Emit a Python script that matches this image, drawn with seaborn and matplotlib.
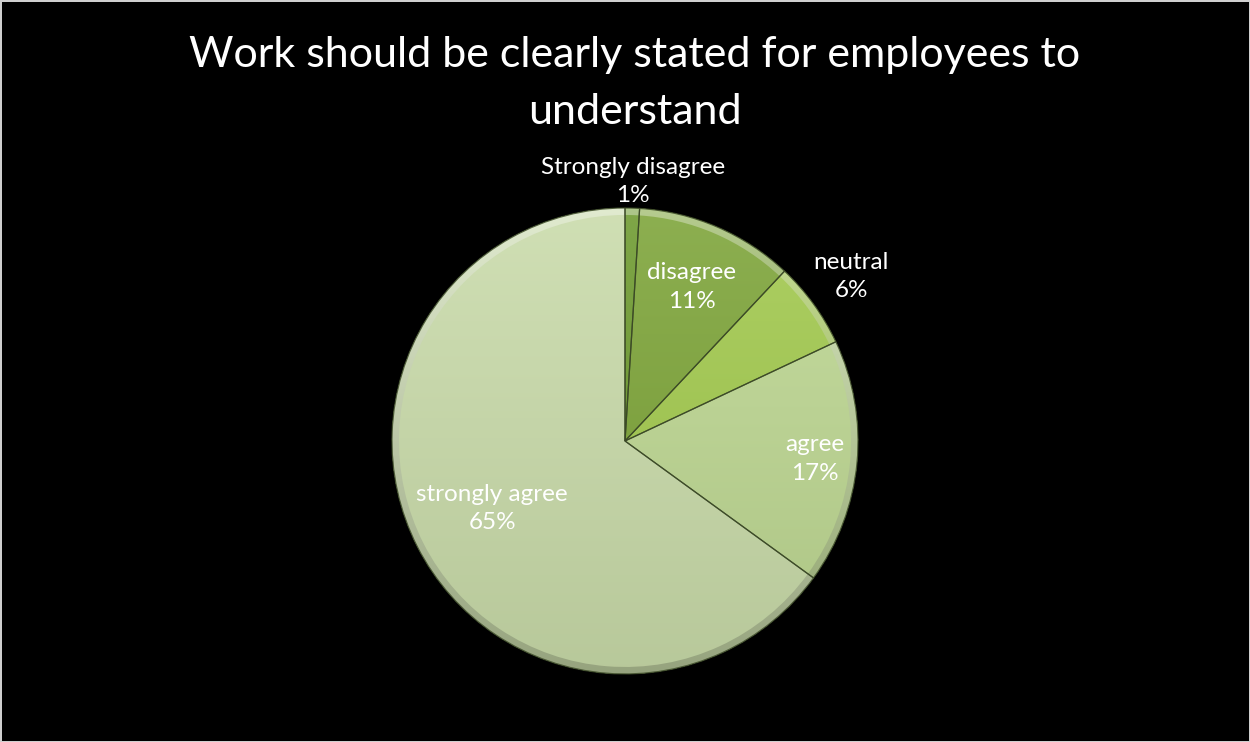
import numpy as np
import matplotlib
matplotlib.use("Agg")
import matplotlib.pyplot as plt
import matplotlib.colors as mcolors
from matplotlib.patches import Wedge
import seaborn as sns

# Survey responses, clockwise from 12 o'clock
categories = ["Strongly disagree", "disagree", "neutral", "agree", "strongly agree"]
shares = [1, 11, 6, 17, 65]
slice_colors = ["#6a982a", "#7aa234", "#a0c84a", "#bcd690", "#c8daa8"]
title = "Work should be clearly stated for employees to\nunderstand"

# Radial position of each label (fraction of radius); >1 means outside
label_radius = [1.115, 0.72, 1.2, 0.82, 0.64]

sns.set_theme(style="white")
plt.rcParams["font.family"] = ["Lato", "DejaVu Sans"]

fig = plt.figure(figsize=(12.5, 7.42), dpi=100, facecolor="black")
fig.patch.set_edgecolor("#cfcfcf")
fig.patch.set_linewidth(1.0)

# square axes holding a unit-radius pie
ax = fig.add_axes([0.2763, 0.0289, 0.4474, 0.7536])
ax.set_facecolor("black")
lim = 1.2

wedges, _ = ax.pie(
    shares,
    colors=slice_colors,
    startangle=90,
    counterclock=False,
    radius=1.0,
    wedgeprops=dict(edgecolor="none", linewidth=0),
)
ax.set_xlim(-lim, lim)
ax.set_ylim(-lim, lim)
ax.set_aspect("equal")
ax.axis("off")


def shade(color, amount):
    rgb = np.array(mcolors.to_rgb(color))
    if amount >= 0:
        return rgb + (1 - rgb) * amount
    return rgb * (1 + amount)


def vertical_gradient(col, up, down, clip, z):
    yy = np.linspace(1, 0, 256)[:, None, None]
    top, bottom = shade(col, up), shade(col, down)
    img = np.repeat(bottom + (top - bottom) * yy, 4, axis=1)
    im = ax.imshow(img, extent=(-1, 1, -1, 1), origin="upper",
                   interpolation="bicubic", zorder=z, aspect="auto")
    im.set_clip_path(clip)
    return im


# soft vertical shading inside each slice, with a bevelled rim that is
# light on the upper side and shadowed on the lower side
for w, col in zip(wedges, slice_colors):
    vertical_gradient(col, 0.14, -0.08, w, 1.5)

    rim = Wedge((0, 0), 1.0, w.theta1, w.theta2, width=0.03,
                facecolor="none", edgecolor="none", zorder=1.6)
    ax.add_patch(rim)
    vertical_gradient(col, 0.45, -0.25, rim, 1.6)

    outline = Wedge((0, 0), 1.0, w.theta1, w.theta2, facecolor="none",
                    edgecolor="#3a4826", linewidth=0.9, alpha=0.85, zorder=1.7)
    ax.add_patch(outline)

# labels: category name and share, placed along each slice's mid-angle
for w, name, val, rf in zip(wedges, categories, shares, label_radius):
    mid = np.deg2rad((w.theta1 + w.theta2) / 2)
    x, y = rf * np.cos(mid), rf * np.sin(mid)
    ax.text(x, y, f"{name}\n{val}%", ha="center", va="center",
            color="white", fontsize=17.5, linespacing=1.42, zorder=3)

fig.text(0.508, 0.952, title, ha="center", va="top", color="white",
         fontsize=31, linespacing=1.62)

fig.savefig("out.png", dpi=100, facecolor=fig.get_facecolor(),
            edgecolor=fig.get_edgecolor())
